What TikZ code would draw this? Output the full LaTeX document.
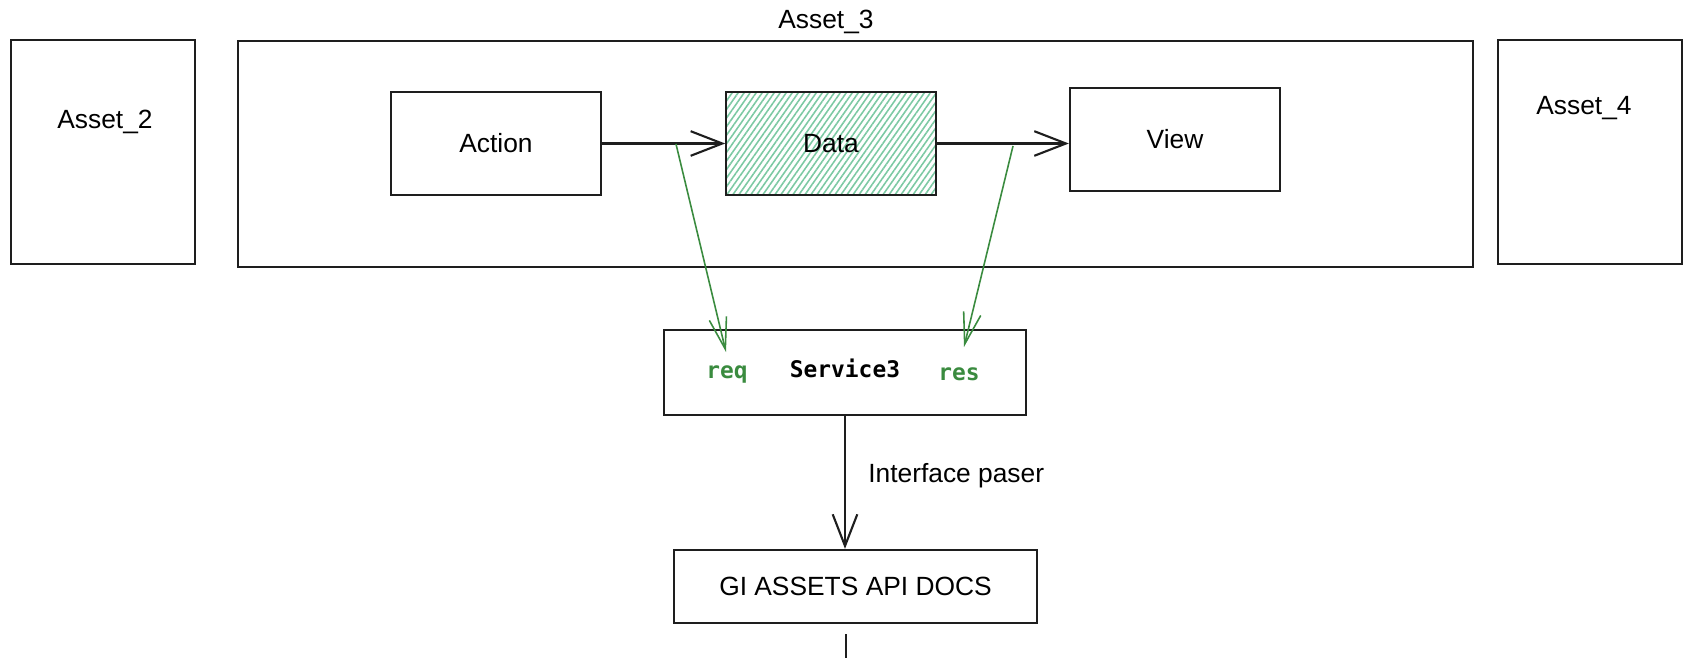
\documentclass[tikz,border=0pt]{standalone}
\usepackage{fontspec}
\setmainfont{Liberation Sans}
\setmonofont{DejaVu Sans Mono}
\usetikzlibrary{arrows.meta,patterns.meta}
\definecolor{ink}{HTML}{1E1E1E}
\definecolor{leaf}{HTML}{3A8B3F}
\definecolor{mint}{HTML}{7CC9A3}

\begin{document}
\begin{tikzpicture}[
    font=\fontsize{7.5}{9}\selectfont,
    box/.style={draw=ink, line width=0.65pt, minimum width=2.1cm, minimum height=1.03cm},
    asset/.style={draw=ink, line width=0.65pt, minimum width=1.84cm, minimum height=2.24cm},
    arr/.style={-{Straight Barb[length=9pt,width=7pt]}, draw=ink, line width=0.6pt},
    garr/.style={-{Straight Barb[length=9pt,width=5pt]}, draw=leaf, line width=0.45pt},
    code/.style={font=\ttfamily\bfseries\fontsize{6.5}{8}\selectfont, text height=1.5ex, text depth=0.4ex},
]
    \useasboundingbox (0,0) rectangle (16.99,-6.58);
    % assets
    \node[asset] (a2) at (1.03,-1.52) {};
    \node (a2t) at (1.05,-1.22) {Asset\_2};
    \node[draw=ink, line width=0.65pt, minimum width=12.35cm, minimum height=2.26cm] (a3) at (8.555,-1.54) {};
    \node (a3t) at (8.26,-0.22) {Asset\_3};
    \node[asset] (a4) at (15.90,-1.52) {};
    \node (a4t) at (15.84,-1.08) {Asset\_4};
    % flow inside Asset_3
    \node[box] (action) at (4.96,-1.435) {Action};
    \node[box, pattern={Lines[angle=55,distance=1.4pt,line width=0.45pt]}, pattern color=mint] (data) at (8.31,-1.435) {Data};
    \node[box] (view) at (11.75,-1.395) {View};
    \draw[arr] (action) -- (data);
    \draw[arr] (data) -- (data -| view.west);
    % service
    \node[box, code, text depth=1.0ex, minimum width=3.62cm, minimum height=0.85cm] (svc) at (8.45,-3.725) {Service3};
    \node[code, text=leaf] (req) at (7.27,-3.68) {req};
    \node[code, text=leaf] (res) at (9.59,-3.70) {res};
    \coordinate (reqfrom) at (6.76,-1.44);
    \coordinate (reqto) at (7.26,-3.52);
    \coordinate (resfrom) at (10.13,-1.46);
    \coordinate (resto) at (9.64,-3.47);
    \draw[garr] (reqfrom) -- (reqto);
    \draw[garr] (resfrom) -- (resto);
    % docs
    \node[box, minimum width=3.63cm, minimum height=0.73cm] (docs) at (8.555,-5.865) {GI ASSETS API DOCS};
    \draw[arr] (svc.south) -- (svc.south |- docs.north) node[pos=0.45, right=3pt] {Interface paser};
    \coordinate (cut) at (8.46,-6.6);
    \draw[ink, line width=0.6pt, shorten <=1mm] (cut |- docs.south) -- (cut);
\end{tikzpicture}
\end{document}
